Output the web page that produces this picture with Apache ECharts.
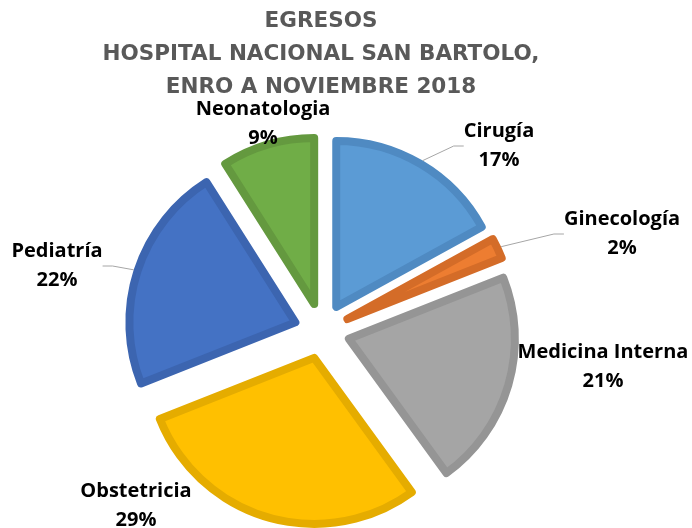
<!DOCTYPE html>
<html>
<head>
<meta charset="utf-8">
<script src="https://cdn.jsdelivr.net/npm/echarts@6/dist/echarts.min.js"></script>
<style>
  html, body { margin: 0; padding: 0; background: #fff; }
  #chart { width: 692px; height: 528px; }
</style>
</head>
<body>
<div id="chart"></div>
<script>
"use strict";

var categories = ["Cirugía", "Ginecología", "Medicina Interna", "Obstetricia", "Pediatría", "Neonatologia"];
var percents = [17, 2, 21, 29, 22, 9];

// fill / border per slice
var fills = ['#5B9BD5', '#ED7D31', '#A5A5A5', '#FFC000', '#4472C4', '#70AD47'];
var borders = ['#4F8AC2', '#D46C28', '#959595', '#E5AC00', '#3C65B0', '#64993F'];
// label centre positions and whether a leader line is drawn
var labelPos = [[499, 146], [622, 234], [603, 367], [136, 506], [57, 266], [263, 124]];
var showLine = [true, true, false, false, true, false];

var chart = echarts.init(document.getElementById('chart'));

var sliceData = categories.map(function (name, i) {
    var style = { color: fills[i], borderColor: borders[i], borderWidth: 8 };
    return {
        name: name,
        value: percents[i],
        selected: true,
        itemStyle: style,
        select: { itemStyle: style }
    };
});

// invisible ring of the same data, only carries the labels
var labelData = categories.map(function (name, i) {
    return {
        name: name,
        value: percents[i],
        labelLine: { show: showLine[i] }
    };
});

chart.setOption({
    animation: false,
    title: {
        text: 'EGRESOS\nHOSPITAL NACIONAL SAN BARTOLO,\nENRO A NOVIEMBRE 2018',
        left: 321,
        top: 5,
        textAlign: 'center',
        padding: 0,
        textStyle: {
            fontFamily: 'DejaVu Sans',
            fontWeight: 'bold',
            fontSize: 21.5,
            lineHeight: 33,
            color: '#595959'
        }
    },
    series: [{
        type: 'pie',
        center: [322, 331],
        radius: 166,
        startAngle: 90,
        clockwise: true,
        selectedMode: 'multiple',
        selectedOffset: 28,
        emphasis: { disabled: true },
        label: { show: false },
        labelLine: { show: false },
        data: sliceData
    }, {
        type: 'pie',
        center: [322, 331],
        radius: 198,
        startAngle: 90,
        clockwise: true,
        silent: true,
        z: 3,
        avoidLabelOverlap: false,
        emphasis: { disabled: true },
        itemStyle: { color: 'rgba(0,0,0,0)', borderWidth: 0 },
        label: {
            show: true,
            formatter: '{b}\n{d}%',
            fontFamily: 'Open Sans',
            fontWeight: 'bold',
            fontSize: 20,
            lineHeight: 29,
            color: '#000000',
            align: 'center'
        },
        labelLine: {
            length: 15,
            length2: 10,
            lineStyle: { color: '#A6A6A6', width: 1 }
        },
        labelLayout: function (params) {
            var p = labelPos[params.dataIndex];
            return { x: p[0], y: p[1], align: 'center', verticalAlign: 'middle' };
        },
        data: labelData
    }]
});
</script>
</body>
</html>
